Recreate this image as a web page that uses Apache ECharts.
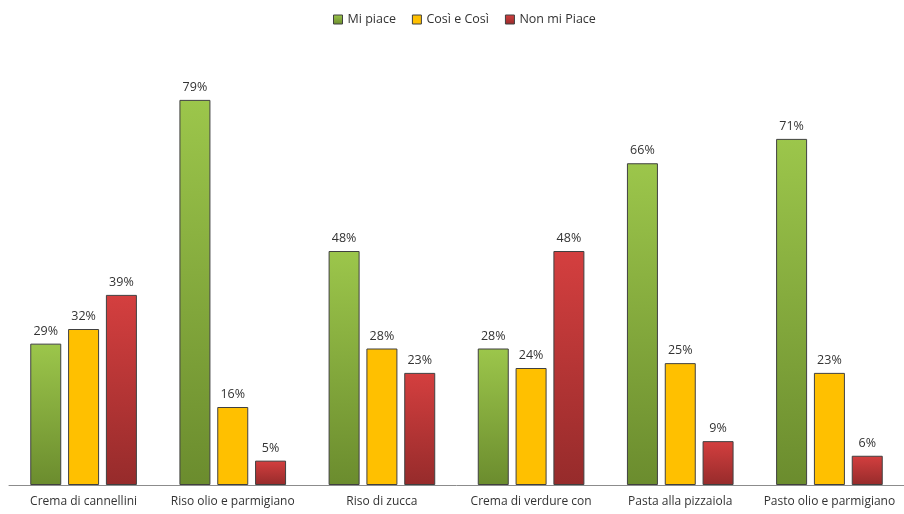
<!DOCTYPE html>
<html><head><meta charset="utf-8">
<script src="https://cdn.jsdelivr.net/npm/echarts@6/dist/echarts.min.js"></script>
<style>html,body{margin:0;padding:0;background:#fff}#c{width:904px;height:514px}</style>
</head><body><div id="c"></div>
<script>
const categories = ["Crema di cannellini","Riso olio e parmigiano","Riso di zucca","Crema di verdure con","Pasta alla pizzaiola","Pasto olio e parmigiano"];
const miPiace = [29,79,48,28,66,71];
const cosiCosi = [32,16,28,24,25,23];
const nonMiPiace = [39,5,23,48,9,6];
const seriesNames = ["Mi piace","Così e Così","Non mi Piace"];

const FONT = "Open Sans";
function grad(top, bottom){
  return new echarts.graphic.LinearGradient(0,0,0,1,[{offset:0,color:top},{offset:1,color:bottom}]);
}
function mk(name, data, color){
  return {
    name, type:'bar', data, barWidth:31, barGap:'22%',
    itemStyle:{color, borderColor:'#404040', borderWidth:1},
    label:{show:true, position:'top', distance:6, formatter:'{c}%', color:'#333', fontFamily:FONT, fontSize:12.5}
  };
}
const chart = echarts.init(document.getElementById('c'));
chart.setOption({
  animation:false,
  legend:{top:8, left:328, itemWidth:9, itemHeight:9, itemGap:16,
    textStyle:{fontFamily:FONT, fontSize:12.5, color:'#333'},
    data:seriesNames.map(n=>({name:n, icon:'rect', itemStyle:{borderColor:'#404040', borderWidth:1}}))},
  grid:{left:9, top:95, width:900, height:390, containLabel:false},
  xAxis:{type:'category', data:categories,
    axisLine:{lineStyle:{color:'#8c8c8c'}}, axisTick:{show:false},
    axisLabel:{fontFamily:FONT, fontSize:12, color:'#333', margin:11, interval:0}},
  yAxis:{type:'value', min:0, max:80, show:false, splitLine:{show:false}},
  series:[
    mk(seriesNames[0], miPiace, grad('#9cc64b','#6b8c2e')),
    mk(seriesNames[1], cosiCosi, '#ffc000'),
    mk(seriesNames[2], nonMiPiace, grad('#d43f3f','#962b2b'))
  ]
});
</script></body></html>
